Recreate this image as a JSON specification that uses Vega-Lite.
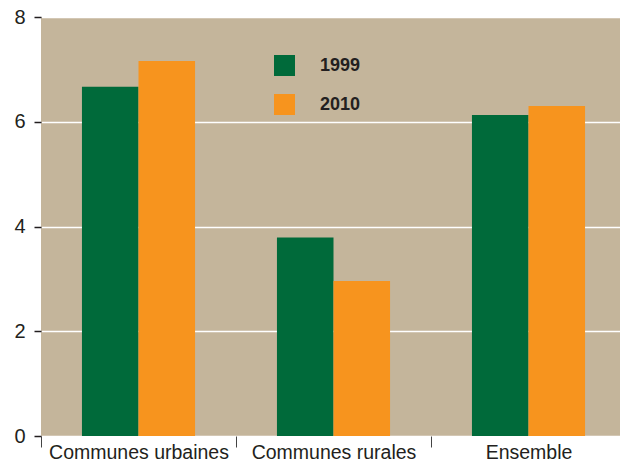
{
  "$schema": "https://vega.github.io/schema/vega-lite/v6.json",
  "autosize": "none",
  "width": 585,
  "height": 419,
  "padding": {"left": 41, "top": 17, "right": 0, "bottom": 27},
  "background": "white",
  "config": {
    "view": {"fill": "#C4B59B", "stroke": null},
    "font": "Liberation Sans"
  },
  "data": {
    "values": [
      {"categorie": "Communes urbaines", "annee": "1999", "valeur": 6.67},
      {"categorie": "Communes urbaines", "annee": "2010", "valeur": 7.16},
      {"categorie": "Communes rurales", "annee": "1999", "valeur": 3.79},
      {"categorie": "Communes rurales", "annee": "2010", "valeur": 2.96},
      {"categorie": "Ensemble", "annee": "1999", "valeur": 6.13},
      {"categorie": "Ensemble", "annee": "2010", "valeur": 6.30}
    ]
  },
  "mark": {"type": "bar"},
  "encoding": {
    "x": {
      "field": "categorie",
      "type": "nominal",
      "sort": ["Communes urbaines", "Communes rurales", "Ensemble"],
      "scale": {"paddingInner": 0.42, "paddingOuter": 0.21},
      "axis": {
        "title": null,
        "labelAngle": 0,
        "domain": false,
        "ticks": true,
        "tickOffset": -97.5,
        "labelOffset": 97.5,
        "tickSize": 11,
        "tickColor": "#444444",
        "tickWidth": 1,
        "labelFontSize": 19.5,
        "labelLimit": 0,
        "labelColor": "#231F20",
        "labelPadding": -4,
        "grid": false
      }
    },
    "xOffset": {"field": "annee", "type": "nominal"},
    "y": {
      "field": "valeur",
      "type": "quantitative",
      "scale": {"domain": [0, 8], "nice": false},
      "axis": {
        "title": null,
        "values": [0, 2, 4, 6, 8],
        "domain": false,
        "tickSize": 7,
        "tickColor": "#231F20",
        "tickWidth": 1.5,
        "labelFontSize": 20,
        "labelColor": "#231F20",
        "labelPadding": 9,
        "grid": true,
        "gridColor": "white",
        "gridWidth": 1.5,
        "gridOpacity": 1
      }
    },
    "color": {
      "field": "annee",
      "type": "nominal",
      "scale": {"domain": ["1999", "2010"], "range": ["#006A3A", "#F7941E"]},
      "legend": {
        "title": null,
        "orient": "none",
        "legendX": 233,
        "legendY": 38,
        "symbolType": "square",
        "symbolSize": 440,
        "symbolStrokeWidth": 0,
        "labelFontSize": 18,
        "labelFontWeight": "bold",
        "labelColor": "#231F20",
        "labelOffset": 25,
        "rowPadding": 18
      }
    }
  }
}
